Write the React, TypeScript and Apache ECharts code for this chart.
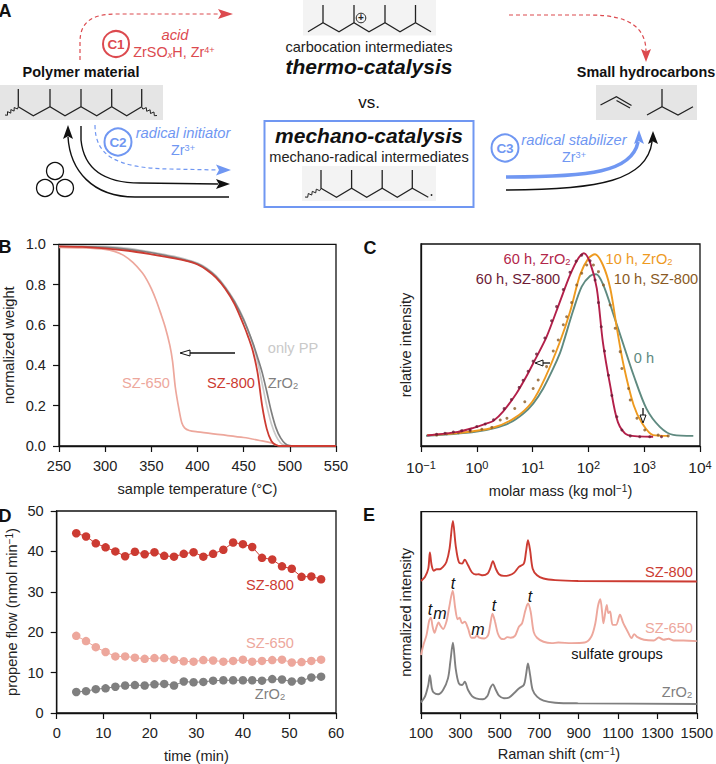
import React, { useEffect, useRef } from "react";
import * as echarts from "echarts";

const FONT = '"Liberation Sans", Arial, sans-serif';
const C800 = "#cc3b32";
const C650 = "#eda79c";
const CZR = "#7f7f7f";
const CPP = "#c9c9c9";
const CBLUE = "#7097f2";
const CRED = "#dc4a4f";
const FS = 14.6;

// ---- Panel B: normalized weight vs temperature
const tempPP = [250, 275, 300, 325, 350, 375, 390, 400, 410, 420, 430, 440, 450, 460, 465, 470, 475, 480, 485, 490, 495, 500, 550];
const weightPP = [0.992, 0.991, 0.99, 0.98, 0.962, 0.94, 0.922, 0.907, 0.882, 0.845, 0.79, 0.72, 0.63, 0.505, 0.42, 0.31, 0.2, 0.11, 0.05, 0.015, 0.003, 0, 0];
const tempZr = [250, 275, 300, 325, 350, 375, 390, 400, 410, 420, 430, 440, 450, 460, 465, 470, 475, 480, 485, 490, 495, 500, 510, 550];
const weightZr = [0.99, 0.988, 0.985, 0.975, 0.958, 0.935, 0.918, 0.903, 0.878, 0.84, 0.785, 0.715, 0.625, 0.51, 0.44, 0.365, 0.27, 0.17, 0.09, 0.04, 0.012, 0.002, 0, 0];
const temp650 = [250, 275, 300, 310, 320, 330, 340, 345, 350, 355, 360, 365, 370, 373, 376, 380, 383, 386, 391, 400, 425, 450, 470, 480, 485, 490, 550];
const weight650 = [0.985, 0.982, 0.975, 0.965, 0.945, 0.91, 0.86, 0.825, 0.78, 0.725, 0.66, 0.59, 0.5, 0.42, 0.29, 0.18, 0.115, 0.09, 0.077, 0.07, 0.056, 0.042, 0.025, 0.015, 0.005, 0, 0];
const temp800 = [250, 275, 300, 325, 350, 375, 390, 400, 410, 420, 430, 440, 450, 455, 460, 465, 470, 475, 480, 485, 490, 550];
const weight800 = [0.99, 0.987, 0.98, 0.968, 0.95, 0.93, 0.915, 0.9, 0.873, 0.835, 0.78, 0.705, 0.6, 0.54, 0.47, 0.365, 0.2, 0.085, 0.025, 0.005, 0, 0];

// ---- Panel C: molar mass distribution (log10 of mass, relative intensity)
const logM0h = [-0.91, -0.42, 0, 0.3, 0.59, 0.83, 1.01, 1.19, 1.37, 1.49, 1.55, 1.73, 1.88, 2.03, 2.14, 2.27, 2.45, 2.63, 2.81, 3.04, 3.28, 3.52, 3.88];
const int0h = [5.1, 5.9, 7.1, 8.7, 11.5, 16, 21, 28.5, 38.4, 46, 51, 67.3, 78.9, 84.2, 85, 79.5, 65, 50, 35, 18.5, 9.5, 5.5, 5];
const logM10Zr = [-0.89, -0.34, 0.27, 0.68, 0.99, 1.22, 1.49, 1.67, 1.85, 2.0, 2.12, 2.26, 2.39, 2.51, 2.63, 2.81, 2.96, 3.16, 3.43];
const int10Zr = [5.4, 6.4, 8.9, 13.9, 21.8, 33.5, 51.6, 66.3, 84.7, 92.9, 94.9, 89.6, 78.2, 58.4, 40.1, 20.3, 11.4, 5.4, 5];
const logM60Zr = [-0.89, -0.34, -0.06, 0.18, 0.3, 0.47, 0.71, 0.89, 1.04, 1.25, 1.49, 1.67, 1.82, 1.92, 2.03, 2.15, 2.26, 2.39, 2.53, 2.71, 3.16];
const int60Zr = [5.2, 7, 9, 11.2, 12.5, 17, 26, 34.5, 42.5, 54, 71.5, 84.6, 93, 95.4, 90.8, 78, 51.3, 30, 11.7, 5.4, 4.6];
const logM10Sz = [-0.72, -0.54, -0.33, -0.12, 0.09, 0.27, 0.42, 0.54, 0.68, 0.86, 1.01, 1.1, 1.25, 1.37, 1.46, 1.55, 1.61, 1.7, 1.79, 1.88, 1.97, 2.09, 2.18, 2.27, 2.39, 2.48, 2.57, 2.6, 2.72, 2.75, 2.87, 3.01, 3.25, 3.43];
const int10Sz = [5.4, 6.1, 6.6, 7.3, 8.3, 9.2, 12.9, 13.7, 18.6, 21.9, 28.5, 32.7, 39.3, 47, 52.5, 60, 64, 71, 79.7, 85.5, 89.6, 89.6, 86.3, 79.7, 69.8, 58.3, 46.7, 38.4, 28.5, 22.8, 13.7, 7.9, 5.4, 5];
const logM60Sz = [-0.72, -0.57, -0.42, -0.27, -0.12, 0, 0.15, 0.3, 0.49, 0.62, 0.76, 0.83, 0.92, 1.01, 1.07, 1.22, 1.34, 1.43, 1.55, 1.67, 1.78, 1.88, 2.03, 2.12, 2.18, 2.23, 2.29, 2.36, 2.42, 2.51, 2.6, 2.75, 2.92, 3.1, 3.31];
const int60Sz = [5.8, 6.3, 6.9, 7.6, 7.9, 9.6, 10.9, 13, 18.5, 23, 29, 32.5, 37, 42, 45.5, 53.5, 62, 69, 77.5, 86, 91.5, 94.5, 91.7, 82.2, 71, 59, 47, 35, 25, 14.5, 7.9, 5, 4.6, 4.6, 4.6];
const decadeTicks = [-1, 0, 1, 2, 3, 4];

// ---- Panel D: propene flow vs time
const timeMin = [4.2, 6.3, 8.4, 10.5, 12.6, 14.7, 16.8, 18.9, 21, 23.1, 25.2, 27.3, 29.4, 31.5, 33.6, 35.8, 37.9, 40, 42, 44.1, 46.3, 48.4, 50.5, 52.6, 54.7, 56.8];
const flow800 = [44.5, 43.7, 42, 41, 40, 38.8, 39.9, 39.3, 39.8, 38.9, 38.7, 39.4, 39.8, 38.7, 39.4, 40.4, 42.2, 41.8, 41.1, 38.4, 38, 36.3, 35.7, 33.7, 33.8, 33.1];
const flow650 = [19.1, 17.8, 16.3, 15.1, 14, 14, 13.7, 13.4, 13.6, 13.6, 13.2, 12.8, 12.7, 13.1, 13, 12.7, 12.9, 13.2, 12.7, 12.9, 13.1, 13.2, 12.5, 12.6, 12.9, 13.2];
const flowZr = [5.2, 5.4, 5.9, 6.1, 6.5, 6.8, 6.9, 6.8, 7.1, 7.2, 6.8, 7.8, 7.6, 7.7, 8, 8.1, 8.1, 8.1, 8.1, 8, 8.4, 8.3, 7.8, 8, 8.8, 9];

// ---- Panel E: Raman spectra
const shift800 = [100, 120, 137, 145, 154, 165, 179, 195, 212, 229, 245, 262, 276, 292, 309, 322, 339, 359, 379, 393, 413, 438, 451, 465, 480, 496, 521, 546, 572, 597, 622, 633, 643, 654, 667, 689, 722, 781, 898, 1500];
const int800 = [65.6, 67.6, 71.7, 79.7, 73.4, 70.7, 71.4, 71.4, 72.6, 75, 81.7, 95.4, 83.3, 75, 74.2, 76.2, 73.4, 69.8, 68.8, 68.9, 68.4, 69.3, 71.7, 75.4, 71.7, 68.9, 68.1, 68.4, 69.6, 72.6, 74.2, 80, 85.8, 80.8, 71.7, 68.4, 66.8, 66, 65.6, 65.3];
const shift650 = [100, 112, 128, 142, 150, 159, 169, 179, 189, 199, 212, 229, 242, 261, 274, 286, 296, 309, 322, 339, 356, 371, 384, 396, 421, 441, 451, 463, 476, 490, 505, 521, 538, 555, 577, 597, 613, 630, 643, 657, 672, 689, 722, 764, 797, 864, 931, 965, 985, 998, 1010, 1020, 1026, 1043, 1051, 1060, 1073, 1090, 1110, 1127, 1149, 1169, 1182, 1199, 1232, 1282, 1307, 1332, 1357, 1383, 1433, 1500];
const int650 = [28.8, 33.7, 38.7, 46.1, 47.3, 42.8, 39.8, 42.8, 45, 43.3, 41.7, 45.3, 51.9, 60.7, 51.9, 46.6, 47.3, 44.5, 45.3, 42, 37.4, 37.4, 38.5, 37.4, 37, 38.7, 43.6, 49.3, 45.3, 39.5, 37, 36.7, 37.7, 37.4, 38.3, 42.8, 44.5, 51, 54.4, 50.2, 40.3, 37.4, 35.4, 34.7, 35, 34.7, 35, 38, 44.6, 52.9, 56.5, 49.6, 44.6, 53.7, 49.6, 50.4, 43.8, 43.8, 48.8, 44.6, 40.5, 37.2, 39.2, 37.7, 36.4, 36, 37.5, 36.4, 36.9, 36, 36, 35.7];
const shiftZr = [100, 120, 137, 145, 155, 165, 187, 212, 237, 249, 262, 276, 292, 309, 322, 339, 359, 379, 413, 438, 451, 465, 480, 496, 521, 546, 572, 597, 622, 633, 643, 654, 667, 689, 722, 781, 898, 1500];
const intZr = [5.3, 8.1, 13.9, 18.8, 12.2, 10.1, 9.3, 11.4, 17.2, 25.5, 34.9, 22.1, 14.7, 13.9, 15.5, 11.4, 8.4, 7.3, 6.8, 8.6, 12.2, 14.2, 11.4, 8.6, 7.3, 7.6, 9.8, 12.2, 13.9, 18.8, 24.6, 18.8, 11.4, 8.1, 6.1, 5.1, 4.8, 4.5];
const ramanTicks = [100, 300, 500, 700, 900, 1100, 1300, 1500];

const zip = (xs: number[], ys: number[]) => xs.map((x, i) => [x, ys[i]]);
const zipLog = (xs: number[], ys: number[]) => xs.map((x, i) => [Math.pow(10, x), ys[i]]);

// schematic curves of panel A
const PATHS: Record<string, string> = {
  pRedL: "M80,60 L80,42 C80,22 92,14 116,14 L220,14",
  pRedR: "M509,15 L590,15 C630,15 646,28 646,52",
  pBlueD: "M95,125 C95,155 115,168 170,169 L218,170",
  pBlackA: "M81,126 L81,140 C84,170 105,183 140,183 L218,184",
  pBlackB: "M229,197 L135,197 C92,197 70,170 68,137",
  pBlueT: "M506,177 C590,177 632,172 638,142",
  pBlackT: "M506,190 C600,190 647,180 652,142",
};
Object.keys(PATHS).forEach((k) => {
  echarts.graphic.registerShape(k, (echarts.graphic as any).extendPath(PATHS[k], {}));
});

const txt = (x: number, y: number, text: string, fill: string, fontSize = FS, extra: any = {}) => ({
  type: "text",
  x,
  y,
  z: 50,
  style: {
    text,
    fill,
    fontSize,
    fontFamily: FONT,
    align: "center",
    verticalAlign: "middle",
    ...extra,
  },
});
const richSub = (fill: string, fontSize = FS) => ({
  rich: {
    a: { fill, fontSize, fontFamily: FONT },
    s: { fill, fontSize: fontSize * 0.64, fontFamily: FONT, verticalAlign: "bottom" },
    u: { fill, fontSize: fontSize * 0.64, fontFamily: FONT, verticalAlign: "top" },
    i: { fill, fontSize: fontSize * 0.64, fontFamily: FONT, fontStyle: "italic", verticalAlign: "bottom" },
  },
});
const MOL = 1.3;
const poly = (pts: number[][], stroke = "#222", lineWidth = MOL) => ({
  type: "polyline",
  z: 20,
  shape: { points: pts },
  style: { fill: "none", stroke, lineWidth },
});
const zig = (pts: [number, number][]) => poly(pts, "#222", 1);
const head = (tip: number[], dir: number[], len: number, half: number, fill: string) => {
  const [dx, dy] = dir;
  const nx = -dy;
  const ny = dx;
  const bx = tip[0] - dx * len;
  const by = tip[1] - dy * len;
  return {
    type: "polygon",
    z: 22,
    shape: {
      points: [
        tip,
        [bx + nx * half, by + ny * half],
        [tip[0] - dx * len * 0.8, tip[1] - dy * len * 0.8],
        [bx - nx * half, by - ny * half],
      ],
    },
    style: { fill },
  };
};
const hollow = (tip: number[], dir: number[], len: number, half: number) => {
  const [dx, dy] = dir;
  const nx = -dy;
  const ny = dx;
  const bx = tip[0] - dx * len;
  const by = tip[1] - dy * len;
  return {
    type: "polygon",
    z: 40,
    shape: { points: [tip, [bx + nx * half, by + ny * half], [bx - nx * half, by - ny * half]] },
    style: { fill: "#fff", stroke: "#111", lineWidth: 1 },
  };
};
const seg = (x1: number, y1: number, x2: number, y2: number, stroke = "#111", lineWidth = 1.3) => ({
  type: "line",
  z: 39,
  shape: { x1, y1, x2, y2 },
  style: { stroke, lineWidth },
});
const rect = (x: number, y: number, width: number, height: number, fill: string) => ({
  type: "rect",
  z: 1,
  shape: { x, y, width, height },
  style: { fill },
});
const circ = (cx: number, cy: number, r: number, stroke: string, lineWidth = 1.3) => ({
  type: "circle",
  z: 20,
  shape: { cx, cy, r },
  style: { fill: "none", stroke, lineWidth },
});
const curve = (name: string, stroke: string, lineWidth: number, dash?: number[]) => ({
  type: name,
  z: 15,
  style: { fill: "none", stroke, lineWidth, lineDash: dash },
});
const squiggle = (x0: number, y0: number, x1: number, y1: number) => {
  const n = 8;
  const pts: [number, number][] = [];
  const L = Math.hypot(x1 - x0, y1 - y0);
  const nx = -(y1 - y0) / L;
  const ny = (x1 - x0) / L;
  for (let i = 0; i <= n; i++) {
    const t = i / n;
    const off = i === 0 || i === n ? 0 : i % 2 ? 1.5 : -1.5;
    pts.push([x0 + (x1 - x0) * t + nx * off, y0 + (y1 - y0) * t + ny * off]);
  }
  return zig(pts);
};

const graphicEls: any[] = [
  // panel letters
  txt(5, 11, "A", "#111", 18, { fontWeight: "bold" }),
  txt(5, 247, "B", "#111", 18, { fontWeight: "bold" }),
  txt(370, 248, "C", "#111", 18, { fontWeight: "bold" }),
  txt(5, 516, "D", "#111", 18, { fontWeight: "bold" }),
  txt(369, 515, "E", "#111", 18, { fontWeight: "bold" }),

  // panel A boxes
  rect(0, 85, 163, 35, "#e5e5e5"),
  rect(596, 85, 101, 35, "#e5e5e5"),
  rect(303, 0, 133, 35.5, "#f3f3f3"),
  rect(302, 166, 134, 35, "#f3f3f3"),
  {
    type: "rect",
    z: 2,
    shape: { x: 264.5, y: 121, width: 209, height: 86 },
    style: { fill: "none", stroke: CBLUE, lineWidth: 2 },
  },

  // panel A molecules
  poly([[18.3, 106.7], [33.3, 115.7], [50, 106.7], [65, 115.7], [81, 106.7], [96.7, 115.7], [111.7, 106.7], [126.7, 115.7], [141.7, 106.7]]),
  ...[18.3, 50, 81, 111.7, 141.7].map((x) => seg(x, 106.7, x, 89, "#222", MOL)),
  squiggle(5, 115, 18.3, 106.7),
  squiggle(141.7, 106.7, 157, 115.5),
  poly([[308, 31.7], [323, 22.7], [339, 31.7], [354, 22.7], [369, 31.7], [385, 22.7], [400, 31.7], [415.5, 22.7], [431, 31.7]]),
  ...[323, 354, 385, 415.5].map((x) => seg(x, 22.7, x, 5, "#222", MOL)),
  circ(361, 18, 4.8, "#222", 1),
  txt(361, 17.6, "+", "#222", 10, { fontWeight: "bold" }),
  poly([[321, 188.3], [336.5, 197.3], [351.6, 188.3], [366.7, 197.3], [382.2, 188.3], [397.3, 197.3], [412.3, 188.3], [428.3, 197.3]]),
  ...[321, 351.6, 382.2, 412.3].map((x) => seg(x, 188.3, x, 170, "#222", MOL)),
  squiggle(305, 197, 321, 188.3),
  { type: "circle", z: 20, shape: { cx: 431.5, cy: 195, r: 0.9 }, style: { fill: "#222" } },
  poly([[600.5, 105], [616.4, 96.7], [631.5, 105.5]]),
  seg(616.5, 100.5, 630, 108, "#222", MOL),
  poly([[647, 115], [662, 106.7], [678, 115], [693, 106.7]]),
  seg(662, 106.7, 662, 89, "#222", MOL),

  // panel A curves
  curve("pRedL", CRED, 1.2, [4, 3]),
  head([233, 14], [1, 0], 15, 5, CRED),
  curve("pRedR", CRED, 1.2, [4, 3]),
  head([646, 62], [0, 1], 13, 5, CRED),
  curve("pBlueD", CBLUE, 1.2, [4, 3]),
  head([231, 170], [1, 0], 15, 5.5, CBLUE),
  curve("pBlackA", "#111", 1.4),
  head([230, 184], [1, 0], 14, 5, "#111"),
  curve("pBlackB", "#111", 1.4),
  head([68, 125], [0, -1], 14, 5, "#111"),
  curve("pBlueT", CBLUE, 3.6),
  head([639, 130], [0, -1], 14, 5, CBLUE),
  curve("pBlackT", "#111", 1.4),
  head([653, 131], [0, -1], 13, 5, "#111"),
  circ(55, 171, 8.5, "#111"),
  circ(45, 188, 8.5, "#111"),
  circ(65, 188, 8.5, "#111"),

  // panel A texts
  txt(369, 47, "carbocation intermediates", "#222", 14.6),
  txt(369, 66.5, "thermo-catalysis", "#111", 21, { fontWeight: "bold", fontStyle: "italic" }),
  txt(369, 102, "vs.", "#111", 17),
  txt(369, 135, "mechano-catalysis", "#111", 21, { fontWeight: "bold", fontStyle: "italic" }),
  txt(369, 157, "mechano-radical intermediates", "#222", 14.6),
  txt(81, 72, "Polymer material", "#111", 14.5, { fontWeight: "bold" }),
  txt(646, 72, "Small hydrocarbons", "#111", 14.4, { fontWeight: "bold" }),
  circ(116, 44, 13, CRED, 2),
  txt(116, 44.5, "C1", CRED, 13.5, { fontWeight: "bold" }),
  txt(175, 35, "acid", CRED, 14.7, { fontStyle: "italic" }),
  txt(174, 52, "{a|ZrSO}{i|x}{a|H, Zr}{u|4+}", CRED, 14.4, richSub(CRED, 14.4)),
  circ(118, 142, 13.5, CBLUE, 2),
  txt(118, 142.5, "C2", CBLUE, 13.5, { fontWeight: "bold" }),
  txt(183, 133, "radical initiator", CBLUE, 14.7, { fontStyle: "italic" }),
  txt(183, 150, "{a|Zr}{u|3+}", CBLUE, 14.4, richSub(CBLUE, 14.4)),
  circ(505, 148, 13.5, CBLUE, 2),
  txt(505, 148.5, "C3", CBLUE, 13.5, { fontWeight: "bold" }),
  txt(574, 140, "radical stabilizer", CBLUE, 14.7, { fontStyle: "italic" }),
  txt(574, 157, "{a|Zr}{u|3+}", CBLUE, 14.4, richSub(CBLUE, 14.4)),

  // panel B labels
  txt(293, 348, "only PP", CPP),
  txt(146, 383, "SZ-650", C650),
  txt(231, 383, "SZ-800", C800),
  txt(283, 383, "{a|ZrO}{s|2}", CZR, FS, richSub(CZR)),
  seg(235, 353, 188, 353),
  hollow([180, 353], [-1, 0], 10, 3),

  // panel C labels
  txt(537, 259, "{a|60 h, ZrO}{s|2}", "#b3274a", FS, richSub("#b3274a")),
  txt(518, 279, "60 h, SZ-800", "#6d1a36"),
  txt(639, 259, "{a|10 h, ZrO}{s|2}", "#ee9a1f", FS, richSub("#ee9a1f")),
  txt(656, 279, "10 h, SZ-800", "#8a5a24"),
  txt(644, 358, "0 h", "#5f8a80"),
  seg(550, 363, 541, 363),
  hollow([535, 363], [-1, 0], 8, 3),
  seg(643, 408, 643, 416),
  hollow([643, 423], [0, 1], 8, 3),

  // panel D labels
  txt(270, 585, "SZ-800", C800),
  txt(270, 643, "SZ-650", C650),
  txt(270, 694, "{a|ZrO}{s|2}", CZR, FS, richSub(CZR)),

  // panel E labels
  txt(669, 572, "SZ-800", C800),
  txt(669, 628, "SZ-650", C650),
  txt(677, 692, "{a|ZrO}{s|2}", CZR, FS, richSub(CZR)),
  txt(617, 654, "sulfate groups", "#111"),
  txt(453, 583, "t", "#111", 16, { fontStyle: "italic" }),
  txt(430, 609, "t", "#111", 16, { fontStyle: "italic" }),
  txt(440, 613, "m", "#111", 16, { fontStyle: "italic" }),
  txt(478, 629, "m", "#111", 16, { fontStyle: "italic" }),
  txt(494, 605, "t", "#111", 16, { fontStyle: "italic" }),
  txt(530, 596, "t", "#111", 16, { fontStyle: "italic" }),
];

const axisBase = {
  axisLine: { onZero: false, lineStyle: { color: "#111", width: 1.3 } },
  axisTick: { length: 6, inside: false, lineStyle: { color: "#111", width: 1.2 } },
  splitLine: { show: false },
  nameTextStyle: { color: "#222", fontSize: FS, fontFamily: FONT },
};
const labelBase = { color: "#222", fontSize: FS, fontFamily: FONT, showMinLabel: true, showMaxLabel: true, hideOverlap: false };
const nameRich = {
  a: { color: "#222", fontSize: FS, fontFamily: FONT },
  u: { color: "#222", fontSize: 10, fontFamily: FONT, verticalAlign: "top" },
};
const grids = [
  { left: 56.7, top: 244.3, width: 279.3, height: 201.7 },
  { left: 421, top: 244, width: 279, height: 202 },
  { left: 56.7, top: 511, width: 279.3, height: 202.7 },
  { left: 421, top: 511.7, width: 279, height: 201.3 },
].map((g) => ({ ...g, show: true, borderColor: "#111", borderWidth: 1.3, backgroundColor: "transparent" }));

const line = (idx: number, data: number[][], color: string, width: number, smooth: number | boolean = 0.3, z = 3) => ({
  type: "line",
  xAxisIndex: idx,
  yAxisIndex: idx,
  data,
  z,
  smooth,
  showSymbol: false,
  symbol: "none",
  lineStyle: { color, width },
});
const dots = (idx: number, data: number[][], color: string, z: number) => ({
  type: "scatter",
  xAxisIndex: idx,
  yAxisIndex: idx,
  data,
  z,
  symbol: "circle",
  symbolSize: 3,
  itemStyle: { color },
});
const linePts = (idx: number, data: number[][], color: string) => ({
  type: "line",
  xAxisIndex: idx,
  yAxisIndex: idx,
  data,
  symbol: "circle",
  symbolSize: 8.5,
  showSymbol: true,
  lineStyle: { color, width: 1 },
  itemStyle: { color },
});

const option: any = {
  animation: false,
  backgroundColor: "#fff",
  textStyle: { fontFamily: FONT },
  grid: grids,
  graphic: { elements: graphicEls },
  xAxis: [
    {
      ...axisBase,
      gridIndex: 0,
      type: "value",
      min: 250,
      max: 550,
      interval: 50,
      axisLabel: { ...labelBase, margin: 12 },
      name: "sample temperature (°C)",
      nameLocation: "middle",
      nameGap: 35,
    },
    {
      ...axisBase,
      gridIndex: 1,
      type: "log",
      logBase: 10,
      min: 0.1,
      max: 10000,
      axisLabel: {
        ...labelBase,
        margin: 13,
        formatter: (v: number) => {
          const e = Math.round(Math.log10(v));
          return decadeTicks.includes(e) ? `{a|10}{u|${e < 0 ? "\u2212" + -e : e}}` : "";
        },
        rich: { a: { fontSize: 15.5, color: "#222", fontFamily: FONT }, u: { fontSize: 11, color: "#222", fontFamily: FONT, verticalAlign: "top" } },
      },
      minorTick: { show: false },
      name: "{a|molar mass (kg mol}{u|\u22121}{a|)}",
      nameLocation: "middle",
      nameGap: 37,
      nameTextStyle: { ...axisBase.nameTextStyle, rich: nameRich },
    },
    {
      ...axisBase,
      gridIndex: 2,
      type: "value",
      min: 0,
      max: 60,
      interval: 10,
      axisLabel: { ...labelBase, margin: 12 },
      name: "time (min)",
      nameLocation: "middle",
      nameGap: 35,
    },
    {
      ...axisBase,
      gridIndex: 3,
      type: "value",
      min: 100,
      max: 1500,
      axisTick: { ...axisBase.axisTick, customValues: ramanTicks },
      axisLabel: { ...labelBase, margin: 12, customValues: ramanTicks, formatter: (v: number) => String(v) },
      name: "{a|Raman shift (cm}{u|\u22121}{a|)}",
      nameLocation: "middle",
      nameGap: 33,
      nameTextStyle: { ...axisBase.nameTextStyle, rich: nameRich },
    },
  ],
  yAxis: [
    {
      ...axisBase,
      gridIndex: 0,
      type: "value",
      min: 0,
      max: 1,
      interval: 0.2,
      axisLabel: { ...labelBase, margin: 13, formatter: (v: number) => v.toFixed(1) },
      name: "normalized weight",
      nameLocation: "middle",
      nameGap: 43,
    },
    {
      ...axisBase,
      gridIndex: 1,
      type: "value",
      min: 0,
      max: 100,
      axisTick: { show: false },
      axisLabel: { show: false },
      name: "relative intensity",
      nameLocation: "middle",
      nameGap: 8,
    },
    {
      ...axisBase,
      gridIndex: 2,
      type: "value",
      min: 0,
      max: 50,
      interval: 10,
      axisLabel: { ...labelBase, margin: 13 },
      name: "{a|propene flow (nmol min}{u|\u22121}{a|)}",
      nameLocation: "middle",
      nameGap: 37,
      nameTextStyle: { ...axisBase.nameTextStyle, rich: nameRich },
    },
    {
      ...axisBase,
      gridIndex: 3,
      type: "value",
      min: 0,
      max: 100,
      axisTick: { show: false },
      axisLabel: { show: false },
      name: "normalized intensity",
      nameLocation: "middle",
      nameGap: 8,
    },
  ],
  series: [
    line(0, zip(tempPP, weightPP), CPP, 1.7),
    line(0, zip(tempZr, weightZr), CZR, 1.7),
    line(0, zip(temp650, weight650), C650, 1.7),
    line(0, zip(temp800, weight800), C800, 1.8),

    line(1, zipLog(logM0h, int0h), "#5f8a80", 1.9),
    line(1, zipLog(logM10Zr, int10Zr), "#ee9a1f", 1.9),
    dots(1, zipLog(logM10Sz, int10Sz), "#8a5a24", 5),
    line(1, zipLog(logM60Zr, int60Zr), "#b3204a", 1.9, 0.3, 6),
    dots(1, zipLog(logM60Sz, int60Sz), "#6d1a36", 7),

    linePts(2, zip(timeMin, flowZr), CZR),
    linePts(2, zip(timeMin, flow650), C650),
    linePts(2, zip(timeMin, flow800), C800),

    line(3, zip(shift800, int800), C800, 1.9),
    line(3, zip(shift650, int650), C650, 1.9),
    line(3, zip(shiftZr, intZr), CZR, 1.9),
  ],
};

export default function App() {
  const ref = useRef<HTMLDivElement>(null);
  useEffect(() => {
    const chart = echarts.init(ref.current!, undefined, { renderer: "svg" });
    chart.setOption(option);
    return () => chart.dispose();
  }, []);
  return <div ref={ref} style={{ position: "absolute", left: 0, top: 0, width: 716, height: 764 }} />;
}
